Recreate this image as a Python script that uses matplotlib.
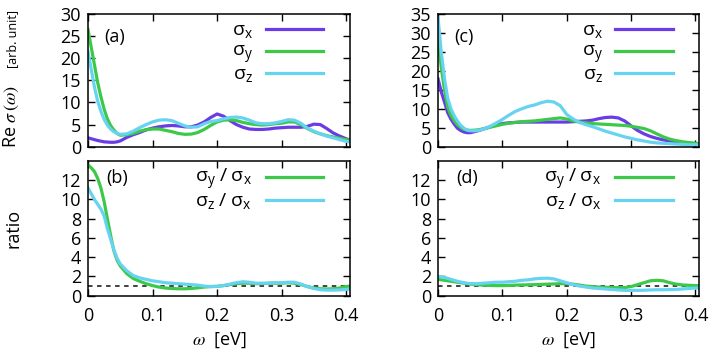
import matplotlib
matplotlib.use('Agg')
import matplotlib.pyplot as plt

plt.rcParams['font.family'] = ['Open Sans', 'DejaVu Sans']
plt.rcParams['font.size'] = 13
plt.rcParams['mathtext.fontset'] = 'stix'

# energy grid [eV]
omega = [0, 0.005, 0.01, 0.015, 0.02, 0.025, 0.03, 0.035, 0.04, 0.045,
         0.05, 0.06, 0.07, 0.08, 0.09, 0.10, 0.11, 0.12,
         0.13, 0.14, 0.15, 0.16, 0.17, 0.18, 0.19, 0.20, 0.21, 0.22,
         0.23, 0.24, 0.25, 0.26, 0.27, 0.28, 0.29, 0.30, 0.31, 0.32,
         0.33, 0.34, 0.35, 0.36, 0.37, 0.38, 0.39, 0.40, 0.406]

# panel (a)
sx_a = [2.0, 1.8, 1.6, 1.4, 1.25, 1.1, 1.05, 1.0, 1.0, 1.1,
        1.3, 2.1, 2.7, 3.2, 3.8, 4.2, 4.5, 4.7,
        4.8, 4.7, 4.5, 4.5, 4.9, 5.6, 6.6, 7.4, 6.9, 5.9,
        5.0, 4.4, 4.0, 3.9, 3.9, 4.0, 4.2, 4.3, 4.4, 4.4,
        4.4, 4.6, 5.1, 5.0, 4.1, 3.1, 2.4, 1.8, 1.5]
sy_a = [26.5, 22.5, 18.5, 14.5, 11.3, 8.5, 6.3, 4.8, 3.8, 3.0,
        2.6, 2.7, 3.0, 3.5, 3.85, 4.0, 4.0, 3.7,
        3.4, 3.0, 2.8, 2.85, 3.2, 3.9, 4.8, 5.6, 6.0, 6.1,
        5.9, 5.5, 5.2, 5.0, 4.9, 5.0, 5.2, 5.3, 5.6, 5.6,
        5.0, 4.1, 3.4, 2.9, 2.5, 2.2, 1.9, 1.6, 1.5]
sz_a = [21.5, 17.5, 13.5, 10.3, 8.0, 6.2, 4.9, 4.0, 3.4, 3.0,
        2.8, 2.9, 3.5, 4.3, 5.0, 5.6, 6.0, 6.1,
        5.9, 5.3, 4.7, 4.4, 4.5, 5.2, 5.7, 5.9, 6.3, 6.6,
        6.7, 6.5, 6.0, 5.4, 5.2, 5.2, 5.4, 5.7, 6.1, 6.0,
        5.3, 4.2, 3.5, 2.9, 2.4, 2.0, 1.6, 1.2, 1.1]

# panel (b)
ryx_b = [13.6, 13.3, 12.9, 12.2, 11.2, 9.8, 8.0, 6.3, 4.7, 3.7,
         3.1, 2.3, 1.8, 1.5, 1.25, 1.05, 0.9, 0.8,
         0.75, 0.72, 0.72, 0.75, 0.82, 0.9, 0.95, 0.97, 1.05, 1.15,
         1.25, 1.3, 1.3, 1.25, 1.25, 1.3, 1.3, 1.3, 1.35, 1.3,
         1.15, 0.95, 0.8, 0.72, 0.7, 0.72, 0.8, 0.95, 1.0]
rzx_b = [11.2, 10.6, 10.0, 9.5, 9.0, 8.3, 7.0, 5.9, 4.8, 3.9,
         3.3, 2.6, 2.1, 1.85, 1.7, 1.55, 1.45, 1.35,
         1.3, 1.25, 1.2, 1.15, 1.1, 1.0, 0.95, 0.97, 1.05, 1.2,
         1.35, 1.45, 1.4, 1.3, 1.3, 1.3, 1.35, 1.35, 1.4, 1.4,
         1.2, 0.95, 0.75, 0.62, 0.58, 0.58, 0.6, 0.65, 0.7]

# panel (c)
sx_c = [17.9, 14.5, 11.8, 9.0, 7.3, 6.0, 4.9, 4.3, 3.9, 3.7,
        3.7, 4.1, 4.6, 5.2, 5.7, 6.1, 6.3, 6.4,
        6.5, 6.5, 6.5, 6.5, 6.5, 6.5, 6.5, 6.5, 6.6, 6.7,
        6.8, 7.0, 7.4, 7.7, 7.8, 7.6, 6.8, 5.5, 4.3, 3.4,
        2.7, 2.2, 1.8, 1.5, 1.3, 1.1, 0.9, 0.8, 0.7]
sy_c = [28.5, 21.0, 15.0, 10.5, 8.3, 6.9, 5.8, 5.1, 4.6, 4.4,
        4.3, 4.4, 4.7, 5.1, 5.5, 5.9, 6.2, 6.4,
        6.6, 6.7, 6.8, 7.0, 7.2, 7.4, 7.6, 7.3, 6.8, 6.5,
        6.3, 6.1, 6.0, 5.9, 5.8, 5.7, 5.6, 5.4, 5.1, 4.8,
        4.2, 3.4, 2.6, 2.0, 1.6, 1.3, 1.1, 0.9, 0.8]
sz_c = [34.0, 25.0, 18.0, 12.8, 10.0, 8.2, 6.8, 5.7, 4.9, 4.4,
        4.2, 4.2, 4.6, 5.3, 6.2, 7.2, 8.3, 9.3,
        10.0, 10.6, 11.0, 11.6, 12.0, 11.8, 10.8, 8.5, 7.3, 6.4,
        5.8, 5.3, 4.7, 4.1, 3.6, 3.1, 2.6, 2.2, 1.8, 1.5,
        1.2, 1.0, 0.9, 0.8, 0.7, 0.6, 0.5, 0.5, 0.5]

# panel (d)
ryx_d = [1.7, 1.65, 1.6, 1.55, 1.5, 1.45, 1.4, 1.35, 1.3, 1.25,
         1.2, 1.15, 1.1, 1.07, 1.05, 1.05, 1.07, 1.1,
         1.12, 1.13, 1.15, 1.17, 1.2, 1.22, 1.25, 1.25, 1.2, 1.1,
         1.0, 0.95, 0.9, 0.87, 0.85, 0.83, 0.85, 0.95, 1.15, 1.35,
         1.55, 1.6, 1.55, 1.35, 1.2, 1.12, 1.08, 1.05, 1.05]
rzx_d = [2.0, 1.95, 1.9, 1.8, 1.7, 1.6, 1.5, 1.42, 1.35, 1.3,
         1.25, 1.25, 1.3, 1.35, 1.4, 1.4, 1.45, 1.5,
         1.6, 1.65, 1.75, 1.8, 1.82, 1.75, 1.55, 1.35, 1.15, 1.0,
         0.9, 0.8, 0.75, 0.7, 0.65, 0.6, 0.55, 0.55, 0.55, 0.57,
         0.6, 0.62, 0.62, 0.63, 0.65, 0.7, 0.75, 0.8, 0.8]

xticks = [0, 0.1, 0.2, 0.3, 0.4]
xticklabels = ['0', '0.1', '0.2', '0.3', '0.4']

c_x = '#6a3ce6'
c_y = '#3cc94a'
c_z = '#66d3f0'
lw = 2.3

lab_x = r'$\mathregular{σ_x}$'
lab_y = r'$\mathregular{σ_y}$'
lab_z = r'$\mathregular{σ_z}$'
lab_yx = r'$\mathregular{σ_y\ /\ σ_x}$'
lab_zx = r'$\mathregular{σ_z\ /\ σ_x}$'


def draw_key(ax, entries, rows, text_right, drop):
    # gnuplot-style key: label on the left (right aligned), line sample on the right
    for (label, color), y in zip(entries, rows):
        ax.plot([0.678, 0.898], [y, y], transform=ax.transAxes, color=color,
                lw=lw, clip_on=False)
        ax.text(text_right, y - drop, label, transform=ax.transAxes,
                ha='right', va='baseline', fontsize=14)


fig = plt.figure(figsize=(7.09, 3.58), dpi=100)
ax_a = fig.add_axes([0.1241, 0.5902, 0.3696, 0.3707])
ax_c = fig.add_axes([0.6178, 0.5902, 0.3685, 0.3707])
ax_b = fig.add_axes([0.1241, 0.1740, 0.3696, 0.3763])
ax_d = fig.add_axes([0.6178, 0.1740, 0.3685, 0.3763])

for ax, sx, sy, sz, top, tag in [(ax_a, sx_a, sy_a, sz_a, 30, '(a)'),
                                 (ax_c, sx_c, sy_c, sz_c, 35, '(c)')]:
    ax.plot(omega, sx, color=c_x, lw=lw)
    ax.plot(omega, sy, color=c_y, lw=lw)
    ax.plot(omega, sz, color=c_z, lw=lw)
    ax.set_ylim(0, top)
    ax.set_yticks(range(0, top + 1, 5))
    ax.set_xticklabels([])
    ax.text(0.10, 0.83, tag, transform=ax.transAxes, ha='center', va='center')
    draw_key(ax, [(lab_x, c_x), (lab_y, c_y), (lab_z, c_z)],
             [0.887, 0.722, 0.556], 0.630, 0.049)

for ax, ryx, rzx, tag in [(ax_b, ryx_b, rzx_b, '(b)'), (ax_d, ryx_d, rzx_d, '(d)')]:
    ax.axhline(1, color='#333333', lw=1.3, ls=(0, (2.5, 2.5)))
    ax.plot(omega, ryx, color=c_y, lw=lw)
    ax.plot(omega, rzx, color=c_z, lw=lw)
    ax.set_ylim(0, 14)
    ax.set_yticks(range(0, 13, 2))
    ax.set_xlabel(r'$\omega$  [eV]', labelpad=4)
    ax.text(0.11, 0.875, tag, transform=ax.transAxes, ha='center', va='center')
    draw_key(ax, [(lab_yx, c_y), (lab_zx, c_z)], [0.881, 0.711], 0.625, 0.048)

for ax in [ax_a, ax_b, ax_c, ax_d]:
    ax.set_xlim(0, 0.406)
    ax.set_xticks(xticks)
    if ax in (ax_b, ax_d):
        ax.set_xticklabels(xticklabels)
    ax.tick_params(direction='in', top=True, right=True, length=5, width=1.0)
    ax.tick_params(axis='y', pad=5)
    ax.tick_params(axis='x', pad=8)
    for sp in ax.spines.values():
        sp.set_linewidth(1.1)

fig.text(11 / 709, 1 - 148 / 358, r'Re $\sigma\,(\omega)$', rotation=90,
         ha='center', va='bottom', fontsize=13)
fig.text(13 / 709, 1 - 68 / 358, '[arb. unit]', rotation=90,
         ha='center', va='bottom', fontsize=9)
fig.text(14 / 709, 1 - 228 / 358, 'ratio', rotation=90, ha='center', va='center')

plt.savefig('out.png', dpi=100)
